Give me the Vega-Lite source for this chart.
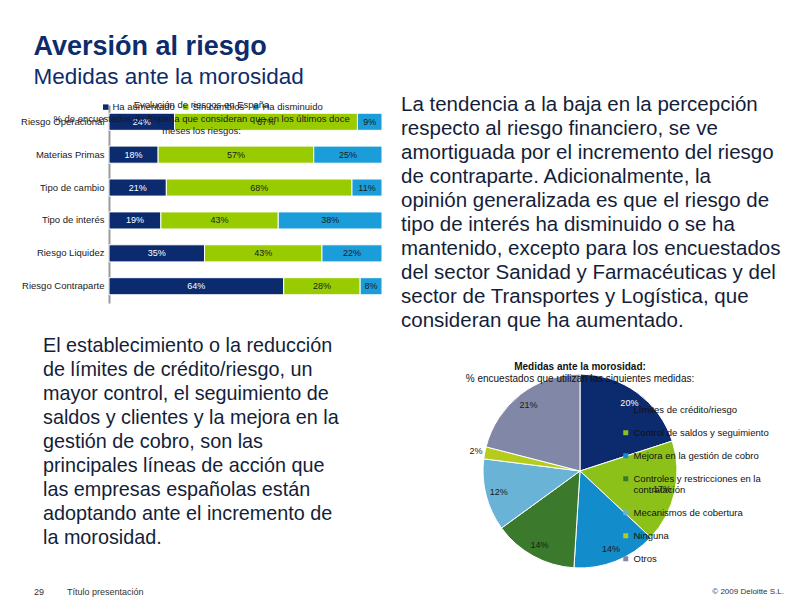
{
  "$schema": "https://vega.github.io/schema/vega-lite/v6.json",
  "background": "white",
  "padding": {"left": 20, "top": 32, "right": 5, "bottom": 5},
  "bounds": "flush",
  "spacing": 481,
  "resolve": {"scale": {"color": "independent"}, "legend": {"color": "independent"}},
  "title": {
    "text": "Aversión al riesgo",
    "subtitle": "Medidas ante la morosidad",
    "anchor": "start",
    "frame": "bounds",
    "dx": 13,
    "font": "Liberation Sans",
    "fontSize": 27,
    "fontWeight": "bold",
    "color": "#0e2c6a",
    "subtitleFont": "Liberation Sans",
    "subtitleFontSize": 22.5,
    "subtitleColor": "#0e2c6a",
    "subtitlePadding": 5,
    "offset": 6
  },
  "config": {
    "view": {"stroke": null},
    "font": "Liberation Sans",
    "text": {"font": "Liberation Sans"},
    "axis": {"labelFont": "Liberation Sans"},
    "legend": {"labelFont": "Liberation Sans"}
  },
  "datasets": {
    "riesgos": [
      {"riesgo": "Riesgo Operacional", "evolucion": "Ha aumentado", "pct": 0.24, "orden": 1},
      {"riesgo": "Riesgo Operacional", "evolucion": "Sin cambios", "pct": 0.67, "orden": 2},
      {"riesgo": "Riesgo Operacional", "evolucion": "Ha disminuido", "pct": 0.09, "orden": 3},
      {"riesgo": "Materias Primas", "evolucion": "Ha aumentado", "pct": 0.18, "orden": 1},
      {"riesgo": "Materias Primas", "evolucion": "Sin cambios", "pct": 0.57, "orden": 2},
      {"riesgo": "Materias Primas", "evolucion": "Ha disminuido", "pct": 0.25, "orden": 3},
      {"riesgo": "Tipo de cambio", "evolucion": "Ha aumentado", "pct": 0.21, "orden": 1},
      {"riesgo": "Tipo de cambio", "evolucion": "Sin cambios", "pct": 0.68, "orden": 2},
      {"riesgo": "Tipo de cambio", "evolucion": "Ha disminuido", "pct": 0.11, "orden": 3},
      {"riesgo": "Tipo de interés", "evolucion": "Ha aumentado", "pct": 0.19, "orden": 1},
      {"riesgo": "Tipo de interés", "evolucion": "Sin cambios", "pct": 0.43, "orden": 2},
      {"riesgo": "Tipo de interés", "evolucion": "Ha disminuido", "pct": 0.38, "orden": 3},
      {"riesgo": "Riesgo Liquidez", "evolucion": "Ha aumentado", "pct": 0.35, "orden": 1},
      {"riesgo": "Riesgo Liquidez", "evolucion": "Sin cambios", "pct": 0.43, "orden": 2},
      {"riesgo": "Riesgo Liquidez", "evolucion": "Ha disminuido", "pct": 0.22, "orden": 3},
      {"riesgo": "Riesgo Contraparte", "evolucion": "Ha aumentado", "pct": 0.64, "orden": 1},
      {"riesgo": "Riesgo Contraparte", "evolucion": "Sin cambios", "pct": 0.28, "orden": 2},
      {"riesgo": "Riesgo Contraparte", "evolucion": "Ha disminuido", "pct": 0.08, "orden": 3}
    ],
    "medidas": [
      {"medida": "Límites de crédito/riesgo", "valor": 0.20, "orden": 1},
      {"medida": "Control de saldos y seguimiento", "valor": 0.17, "orden": 2},
      {"medida": "Mejora en la gestión de cobro", "valor": 0.14, "orden": 3},
      {"medida": "Controles y restricciones en la contratación", "valor": 0.14, "orden": 4},
      {"medida": "Mecanismos de cobertura", "valor": 0.12, "orden": 5},
      {"medida": "Ninguna", "valor": 0.02, "orden": 6},
      {"medida": "Otros", "valor": 0.21, "orden": 7}
    ],
    "textoIzq": [
      {"linea": 1, "texto": "El establecimiento o la reducción"},
      {"linea": 2, "texto": "de límites de crédito/riesgo, un"},
      {"linea": 3, "texto": "mayor control, el seguimiento de"},
      {"linea": 4, "texto": "saldos y clientes y la mejora en la"},
      {"linea": 5, "texto": "gestión de cobro, son las"},
      {"linea": 6, "texto": "principales líneas de acción que"},
      {"linea": 7, "texto": "las empresas españolas están"},
      {"linea": 8, "texto": "adoptando ante el incremento de"},
      {"linea": 9, "texto": "la morosidad."}
    ],
    "textoDer": [
      {"linea": 1, "texto": "La tendencia a la baja en la percepción"},
      {"linea": 2, "texto": "respecto al riesgo financiero, se ve"},
      {"linea": 3, "texto": "amortiguada por el incremento del riesgo"},
      {"linea": 4, "texto": "de contraparte. Adicionalmente, la"},
      {"linea": 5, "texto": "opinión generalizada es que el riesgo de"},
      {"linea": 6, "texto": "tipo de interés ha disminuido o se ha"},
      {"linea": 7, "texto": "mantenido, excepto para los encuestados"},
      {"linea": 8, "texto": "del sector Sanidad y Farmacéuticas y del"},
      {"linea": 9, "texto": "sector de Transportes y Logística, que"},
      {"linea": 10, "texto": "consideran que ha aumentado."}
    ]
  },
  "vconcat": [
    {
      "bounds": "flush",
      "align": "each",
      "columns": 2,
      "spacing": {"row": 25, "column": 19},
      "resolve": {"scale": {"color": "independent"}, "legend": {"color": "independent"}},
      "concat": [
        {
          "width": 273,
          "height": 198,
          "data": {"name": "riesgos"},
          "title": {
            "text": "Evolución de riesgos en España",
            "subtitle": ["% de encuestados de España que consideran que en los últimos doce", "meses los riesgos:"],
            "anchor": "middle",
            "frame": "bounds",
            "font": "Liberation Sans",
            "fontSize": 9.5,
            "fontWeight": "normal",
            "color": "#1a1a1a",
            "subtitleFont": "Liberation Sans",
            "subtitleFontSize": 9.5,
            "subtitleColor": "#1a1a1a",
            "subtitlePadding": 4,
            "subtitleLineHeight": 12,
            "offset": -33
          },
          "encoding": {
            "y": {
              "field": "riesgo",
              "type": "nominal",
              "sort": ["Riesgo Operacional", "Materias Primas", "Tipo de cambio", "Tipo de interés", "Riesgo Liquidez", "Riesgo Contraparte"],
              "scale": {"paddingInner": 0.48, "paddingOuter": 0.25},
              "axis": {"title": null, "ticks": false, "labelFontSize": 9.5, "labelColor": "#1a1a1a", "labelPadding": 5, "domainColor": "#9a9a9a", "domainWidth": 2}
            },
            "x": {"field": "pct", "type": "quantitative", "stack": "zero", "scale": {"domain": [0, 1], "nice": false}, "axis": null},
            "order": {"field": "orden", "type": "quantitative"}
          },
          "layer": [
            {
              "mark": {"type": "bar", "stroke": "white", "strokeWidth": 1},
              "encoding": {
                "color": {
                  "field": "evolucion",
                  "type": "nominal",
                  "scale": {"domain": ["Ha aumentado", "Sin cambios", "Ha disminuido"], "range": ["#0c2a6e", "#99cc00", "#1b9dd9"]},
                  "legend": {"orient": "none", "legendX": -8, "legendY": -3, "direction": "horizontal", "title": null, "symbolType": "square", "symbolSize": 30, "symbolStrokeWidth": 0, "labelFontSize": 9.5, "labelColor": "#1a1a1a", "columnPadding": 6, "labelOffset": 2}
                }
              }
            },
            {
              "mark": {"type": "text", "fontSize": 9, "align": "center", "baseline": "middle"},
              "encoding": {
                "x": {"field": "pct", "type": "quantitative", "stack": "zero", "bandPosition": 0.5},
                "detail": {"field": "evolucion"},
                "text": {"field": "pct", "type": "quantitative", "format": ".0%"},
                "color": {"condition": {"test": "datum.evolucion === 'Ha aumentado'", "value": "white"}, "value": "#1a1a1a"}
              }
            }
          ]
        },
        {
          "width": 375,
          "height": 216,
          "data": {"name": "textoDer"},
          "mark": {"type": "text", "align": "left", "baseline": "middle", "fontSize": 20.5, "color": "#141e38"},
          "encoding": {
            "y": {"field": "linea", "type": "ordinal", "scale": {"type": "point", "padding": 0}, "axis": null},
            "x": {"value": 0},
            "text": {"field": "texto"}
          }
        },
        {
          "width": 273,
          "height": 192,
          "data": {"name": "textoIzq"},
          "mark": {"type": "text", "align": "left", "baseline": "middle", "fontSize": 19.8, "dx": -66, "color": "#141e38"},
          "encoding": {
            "y": {"field": "linea", "type": "ordinal", "scale": {"type": "point", "padding": 0}, "axis": null},
            "x": {"value": 0},
            "text": {"field": "texto"}
          }
        },
        {
          "width": 358,
          "height": 250,
          "data": {"name": "medidas"},
          "title": {
            "text": "Medidas ante la morosidad:",
            "subtitle": "% encuestados que utilizan las siguientes medidas:",
            "anchor": "middle",
            "frame": "group",
            "font": "Liberation Sans",
            "fontSize": 10,
            "fontWeight": "bold",
            "color": "#111111",
            "subtitleFont": "Liberation Sans",
            "subtitleFontSize": 10,
            "subtitleColor": "#111111",
            "subtitlePadding": 2,
            "offset": -38
          },
          "encoding": {
            "theta": {"field": "valor", "type": "quantitative", "stack": true},
            "order": {"field": "orden", "type": "quantitative"}
          },
          "layer": [
            {
              "mark": {"type": "arc", "outerRadius": 97, "stroke": "white", "strokeWidth": 1},
              "encoding": {
                "color": {
                  "field": "medida",
                  "type": "nominal",
                  "scale": {
                    "domain": ["Límites de crédito/riesgo", "Control de saldos y seguimiento", "Mejora en la gestión de cobro", "Controles y restricciones en la contratación", "Mecanismos de cobertura", "Ninguna", "Otros"],
                    "range": ["#0c2a6e", "#8cc11a", "#138ccb", "#3b7a2c", "#69b3d6", "#b5cc1c", "#8187a6"]
                  },
                  "legend": {
                    "orient": "none", "legendX": 220, "legendY": 59, "direction": "vertical", "title": null,
                    "symbolType": "square", "symbolSize": 25, "symbolStrokeWidth": 0,
                    "labelFontSize": 9.5, "labelColor": "#111111", "labelOffset": 3, "rowPadding": 12, "labelLimit": 200,
                    "labelExpr": "datum.label == 'Controles y restricciones en la contratación' ? ['Controles y restricciones en la', 'contratación'] : datum.label"
                  }
                }
              }
            },
            {
              "mark": {"type": "text", "radius": 84, "fontSize": 9},
              "encoding": {
                "detail": {"field": "medida"},
                "text": {"condition": {"test": "datum.valor > 0.05", "field": "valor", "type": "quantitative", "format": ".0%"}, "value": ""},
                "color": {"condition": {"test": "datum.medida === 'Límites de crédito/riesgo'", "value": "white"}, "value": "#1a1a1a"}
              }
            },
            {
              "mark": {"type": "text", "radius": 106, "fontSize": 9, "color": "#1a1a1a"},
              "encoding": {
                "detail": {"field": "medida"},
                "text": {"condition": {"test": "datum.valor < 0.05", "field": "valor", "type": "quantitative", "format": ".0%"}, "value": ""}
              }
            }
          ]
        }
      ]
    },
    {
      "width": 675,
      "height": 12,
      "layer": [
        {
          "data": {"values": [{"t": "29"}]},
          "mark": {"type": "text", "align": "left", "baseline": "middle", "dx": -75, "fontSize": 9, "color": "#333333"},
          "encoding": {"x": {"value": 0}, "text": {"field": "t"}}
        },
        {
          "data": {"values": [{"t": "Título presentación"}]},
          "mark": {"type": "text", "align": "left", "baseline": "middle", "dx": -42, "fontSize": 9, "color": "#333333"},
          "encoding": {"x": {"value": 0}, "text": {"field": "t"}}
        },
        {
          "data": {"values": [{"t": "© 2009 Deloitte S.L."}]},
          "mark": {"type": "text", "align": "right", "baseline": "middle", "fontSize": 8, "color": "#333333"},
          "encoding": {"x": {"value": "width"}, "text": {"field": "t"}}
        }
      ]
    }
  ]
}
